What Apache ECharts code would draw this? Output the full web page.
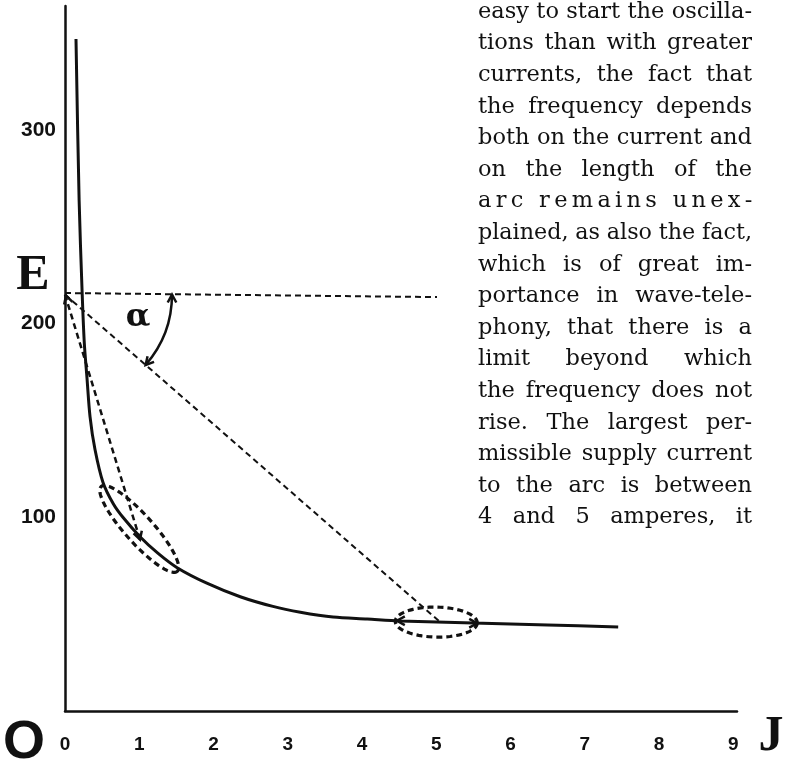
<!DOCTYPE html>
<html>
<head>
<meta charset="utf-8">
<script src="https://cdn.jsdelivr.net/npm/echarts@6/dist/echarts.min.js"></script>
<style>
  html, body { margin: 0; padding: 0; background: #fff; }
  #arcChart { width: 790px; height: 764px; }
</style>
</head>
<body>
<div id="arcChart"></div>
<script>
// arc characteristic, voltage E against current J
const curveJ = [0.148, 0.19, 0.23, 0.26, 0.296, 0.337, 0.404, 0.512, 0.65, 0.78, 1.01, 1.25, 1.51, 1.91, 2.36, 2.8, 3.17, 3.61, 4.07, 4.51, 5.5, 6.5, 7.45]
const curveE = [347, 264, 217, 190, 172, 152, 135, 118, 107, 100, 90, 81.5, 74, 66, 59, 54, 51, 48.5, 47.5, 46.5, 45.4, 44.4, 43.4]
// dashed construction lines
const levelJ = [0, 5.01]
const levelE = [215.8, 213.7]
const secantJ = [0, 5.05]
const secantE = [215, 46]
const chordJ = [0, 1.01]
const chordE = [215, 88.5]
// tick labels
const xTickLabels = [0, 1, 2, 3, 4, 5, 6, 7, 8, 9]
const yTickLabels = [100, 200, 300]
// column of book text next to the figure
const textLines = [
  'easy to start the oscilla-',
  'tions than with greater',
  'currents, the fact that',
  'the frequency depends',
  'both on the current and',
  'on the length of the',
  'arc remains unex-',
  'plained, as also the fact,',
  'which is of great im-',
  'portance in wave-tele-',
  'phony, that there is a',
  'limit beyond which',
  'the frequency does not',
  'rise. The largest per-',
  'missible supply current',
  'to the arc is between',
  '4 and 5 amperes, it'
]
const spacedLines = [6]

const ink = '#111'
const chart = echarts.init(document.getElementById('arcChart'))

const zip = (xs, ys) => xs.map((x, i) => [x, ys[i]])
const dashed = (xs, ys, w) => ({
  type: 'line',
  data: zip(xs, ys),
  showSymbol: false,
  silent: true,
  lineStyle: { color: ink, width: w, type: [6, 4] }
})

chart.setOption({
  animation: false,
  backgroundColor: '#fff',
  grid: { left: 65, right: 53, top: 6, bottom: 53 },
  xAxis: {
    type: 'value',
    min: 0,
    max: 9.05,
    interval: 1,
    axisLine: { lineStyle: { color: ink, width: 2.5 } },
    axisTick: { show: false },
    splitLine: { show: false },
    axisLabel: {
      margin: 24,
      color: ink,
      fontFamily: 'Liberation Sans',
      fontWeight: 'bold',
      fontSize: 19,
      formatter: v => xTickLabels.includes(v) ? String(v) : ''
    }
  },
  yAxis: {
    type: 'value',
    min: 0,
    max: 364,
    interval: 100,
    axisLine: { lineStyle: { color: ink, width: 2.5 } },
    axisTick: { show: false },
    splitLine: { show: false },
    axisLabel: {
      margin: 9,
      color: ink,
      fontFamily: 'Liberation Sans',
      fontWeight: 'bold',
      fontSize: 21,
      formatter: v => yTickLabels.includes(v) ? String(v) : ''
    }
  },
  series: [
    {
      type: 'line',
      data: zip(curveJ, curveE),
      smooth: 0.3,
      showSymbol: false,
      silent: true,
      lineStyle: { color: ink, width: 3 },
      z: 3
    },
    dashed(levelJ, levelE, 2),
    dashed(secantJ, secantE, 2),
    dashed(chordJ, chordE, 2.5)
  ]
})

// annotations: ellipses, angle arc, arrowheads and text
const px = (j, e) => chart.convertToPixel({ gridIndex: 0 }, [j, e])

function ellipse(c, rx, ry, rot) {
  const pts = []
  for (let i = 0; i < 72; i++) {
    const t = i / 72 * Math.PI * 2
    const x = rx * Math.cos(t), y = ry * Math.sin(t)
    pts.push([c[0] + x * Math.cos(rot) - y * Math.sin(rot), c[1] + x * Math.sin(rot) + y * Math.cos(rot)])
  }
  return {
    type: 'polygon',
    shape: { points: pts },
    style: { fill: 'none', stroke: ink, lineWidth: 3.2, lineDash: [6, 4] }
  }
}

function arrowHead(tip, ang) {
  const L = 9, a = 0.5
  return {
    type: 'polyline',
    shape: {
      points: [
        [tip[0] - L * Math.cos(ang - a), tip[1] - L * Math.sin(ang - a)],
        tip,
        [tip[0] - L * Math.cos(ang + a), tip[1] - L * Math.sin(ang + a)]
      ]
    },
    style: { stroke: ink, lineWidth: 2.5, fill: 'none' }
  }
}

const measure = document.createElement('canvas').getContext('2d')
function bookLine(line, idx) {
  const left = 478, width = 274, y = 12 + idx * 31.6
  // shrink the type only where a line would not fit the column
  let size = 22.5
  const words = line.split(' ')
  while (size > 18) {
    measure.font = size + 'px "DejaVu Serif"'
    const natural = words.reduce((a, w) => a + measure.measureText(w).width, 0) + (words.length - 1) * size * 0.28
    if (natural <= width) break
    size -= 0.25
  }
  const font = size + 'px "DejaVu Serif"'
  measure.font = font
  const out = []
  const txt = (s, x) => ({
    type: 'text',
    style: { text: s, x: x, y: y, font: font, fill: ink, align: 'left', textAlign: 'left', verticalAlign: 'middle', textVerticalAlign: 'middle' }
  })
  if (spacedLines.includes(idx)) {
    const chars = line.split('')
    const extra = (width - measure.measureText(line).width) / (chars.length - 1)
    chars.forEach((ch, i) => {
      if (ch !== ' ') out.push(txt(ch, left + measure.measureText(line.slice(0, i)).width + i * extra))
    })
  } else {
    const ws = words.map(w => measure.measureText(w).width)
    const sum = ws.reduce((a, b) => a + b, 0)
    const gap = words.length > 1 ? (width - sum) / (words.length - 1) : 0
    let x = left
    words.forEach((w, i) => {
      out.push(txt(w, x))
      x += ws[i] + gap
    })
  }
  return out
}

function drawNotes() {
  const origin = px(0, 215)
  const secEnd = px(secantJ[1], secantE[1])
  const chordEnd = px(chordJ[1], chordE[1])
  const secAng = Math.atan2(secEnd[1] - origin[1], secEnd[0] - origin[0])
  const chordAng = Math.atan2(chordEnd[1] - origin[1], chordEnd[0] - origin[0])
  const r = 107
  const arcTop = [origin[0] + r, origin[1]]
  const arcLow = [origin[0] + r * Math.cos(secAng), origin[1] + r * Math.sin(secAng)]

  const g = [
    ellipse(px(1.0, 94), 57, 14, 0.84),
    ellipse(px(5.0, 45.9), 41, 15, 0.02),
    {
      type: 'arc',
      shape: { cx: origin[0], cy: origin[1], r: r, startAngle: 0, endAngle: secAng },
      style: { stroke: ink, lineWidth: 2.5, fill: 'none' }
    },
    arrowHead(arcTop, -Math.PI / 2),
    arrowHead(arcLow, secAng + Math.PI / 2),
    arrowHead(chordEnd, chordAng),
    arrowHead([origin[0] + 1, origin[1] + 1], chordAng + Math.PI),
    arrowHead(px(4.47, 46.6), Math.PI),
    arrowHead(px(5.55, 45.3), 0),
    { type: 'text', style: { text: 'E', x: 33, y: 276, font: 'bold 50px "Liberation Serif"', fill: ink, align: 'center', textAlign: 'center', verticalAlign: 'middle', textVerticalAlign: 'middle' } },
    { type: 'text', style: { text: 'O', x: 24, y: 743, font: 'bold 54px "Liberation Sans"', fill: ink, align: 'center', textAlign: 'center', verticalAlign: 'middle', textVerticalAlign: 'middle' } },
    { type: 'text', style: { text: 'J', x: 771, y: 737, font: 'bold 50px "Liberation Serif"', fill: ink, align: 'center', textAlign: 'center', verticalAlign: 'middle', textVerticalAlign: 'middle' } },
    { type: 'text', style: { text: 'α', x: 138, y: 318, font: 'bold 32px "DejaVu Serif"', fill: ink, align: 'center', textAlign: 'center', verticalAlign: 'middle', textVerticalAlign: 'middle' } }
  ]
  textLines.forEach((l, i) => { g.push(...bookLine(l, i)) })
  chart.setOption({ graphic: g.map(el => Object.assign({ silent: true }, el)) })
}
drawNotes()
</script>
</body>
</html>
